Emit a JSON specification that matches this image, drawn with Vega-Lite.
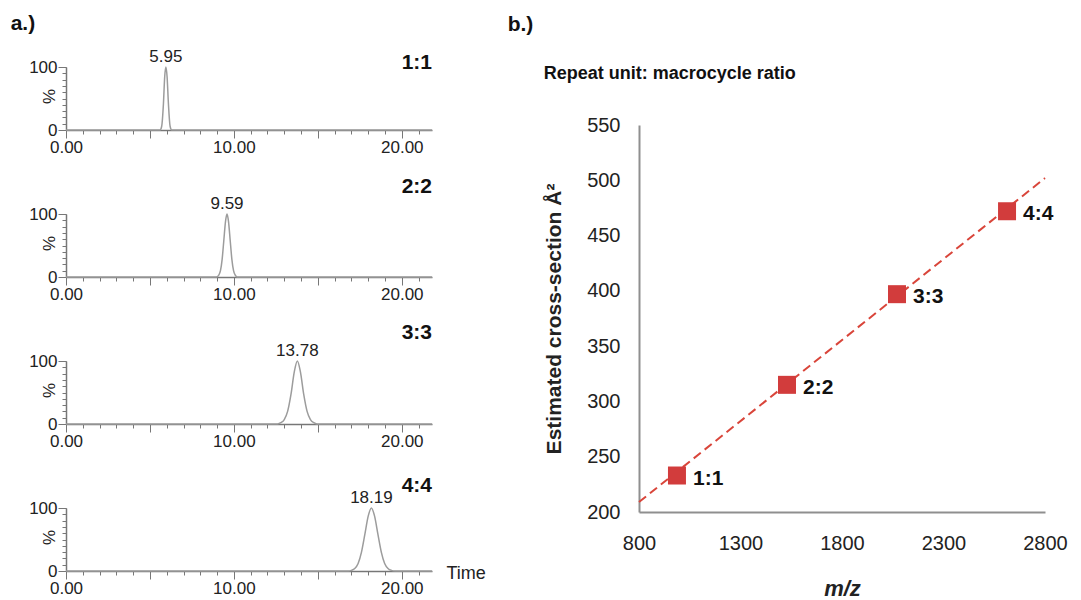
{
  "$schema": "https://vega.github.io/schema/vega-lite/v6.json",
  "background": "white",
  "padding": {"left": 10, "top": 13, "right": 0, "bottom": 0},
  "spacing": 21,
  "config": {
    "font": "Liberation Sans",
    "view": {"stroke": null},
    "axis": {"grid": false, "labelColor": "#222", "titleColor": "#222", "labelFlush": false, "labelOverlap": false},
    "title": {"color": "#111"}
  },
  "hconcat": [
    {
      "title": {"text": "a.)", "anchor": "start", "frame": "bounds", "fontSize": 21, "fontWeight": "bold", "offset": 14, "dx": -18},
      "spacing": 84,
      "bounds": "flush",
      "vconcat": [
        {
          "width": 366, "height": 63,
          "resolve": {"axis": {"x": "independent", "y": "independent"}},
          "layer": [
            {
              "data": {"values": [{"t":0,"p":0},{"t":5.6,"p":0},{"t":5.7,"p":6},{"t":5.8,"p":40},{"t":5.88,"p":85},{"t":5.95,"p":100},{"t":6.02,"p":85},{"t":6.1,"p":42},{"t":6.2,"p":6},{"t":6.3,"p":0},{"t":21.8,"p":0}]},
              "mark": {"type": "line", "color": "#9c9c9c", "strokeWidth": 1.5, "interpolate": "monotone"},
              "encoding": {
                "x": {"field": "t", "type": "quantitative", "scale": {"domain": [0, 21.8], "nice": false, "zero": false},
                  "axis": {"orient": "bottom", "values": [0,1,2,3,4,5,6,7,8,9,10,11,12,13,14,15,16,17,18,19,20,21], "tickSize": 4, "labels": false, "domain": true, "domainColor": "#777", "domainWidth": 1.5, "tickColor": "#777", "title": null}},
                "y": {"field": "p", "type": "quantitative", "scale": {"domain": [0, 100], "nice": false},
                  "axis": {"orient": "left", "values": [0,10,20,30,40,50,60,70,80,90,100], "tickSize": 4, "labels": false, "domain": true, "domainColor": "#777", "domainWidth": 1.5, "tickColor": "#777", "title": null}}
              }
            },
            {
              "data": {"values": [{"t": 5.95, "p": 100, "label": "5.95"}]},
              "mark": {"type": "text", "baseline": "bottom", "dy": -1, "fontSize": 17, "color": "#222"},
              "encoding": {
                "x": {"field": "t", "type": "quantitative",
                  "axis": {"orient": "bottom", "values": [0,5,10,15,20], "tickSize": 8, "domain": false, "tickColor": "#777", "labelExpr": "datum.value % 10 == 0 ? format(datum.value, '.2f') : ''", "labelFontSize": 17, "labelPadding": 1, "title": null}},
                "y": {"field": "p", "type": "quantitative",
                  "axis": {"orient": "left", "values": [0, 100], "tickSize": 8, "domain": false, "tickColor": "#777", "labelFontSize": 17, "labelPadding": 1, "title": "%", "titleFontSize": 17, "titleFontWeight": "normal", "titleX": -17, "titleY": 29, "titleBaseline": "middle", "titleAlign": "center"}},
                "text": {"field": "label"}
              }
            },
            {
              "data": {"values": [{"label": "1:1"}]},
              "mark": {"type": "text", "align": "right", "baseline": "middle", "fontSize": 21, "fontWeight": "bold", "color": "#111"},
              "encoding": {
                "x": {"datum": 21.8, "type": "quantitative", "axis": null},
                "y": {"datum": 106, "type": "quantitative", "axis": null},
                "text": {"field": "label"}
              }
            }
          ]
        },
        {
          "width": 366, "height": 63,
          "resolve": {"axis": {"x": "independent", "y": "independent"}},
          "layer": [
            {
              "data": {"values": [{"t":0,"p":0},{"t":8.95,"p":0},{"t":9.1,"p":3},{"t":9.2,"p":10},{"t":9.3,"p":28},{"t":9.4,"p":58},{"t":9.5,"p":88},{"t":9.59,"p":100},{"t":9.68,"p":88},{"t":9.78,"p":58},{"t":9.88,"p":28},{"t":9.98,"p":10},{"t":10.08,"p":3},{"t":10.2,"p":0},{"t":21.8,"p":0}]},
              "mark": {"type": "line", "color": "#9c9c9c", "strokeWidth": 1.5, "interpolate": "monotone"},
              "encoding": {
                "x": {"field": "t", "type": "quantitative", "scale": {"domain": [0, 21.8], "nice": false, "zero": false},
                  "axis": {"orient": "bottom", "values": [0,1,2,3,4,5,6,7,8,9,10,11,12,13,14,15,16,17,18,19,20,21], "tickSize": 4, "labels": false, "domain": true, "domainColor": "#777", "domainWidth": 1.5, "tickColor": "#777", "title": null}},
                "y": {"field": "p", "type": "quantitative", "scale": {"domain": [0, 100], "nice": false},
                  "axis": {"orient": "left", "values": [0,10,20,30,40,50,60,70,80,90,100], "tickSize": 4, "labels": false, "domain": true, "domainColor": "#777", "domainWidth": 1.5, "tickColor": "#777", "title": null}}
              }
            },
            {
              "data": {"values": [{"t": 9.59, "p": 100, "label": "9.59"}]},
              "mark": {"type": "text", "baseline": "bottom", "dy": -1, "fontSize": 17, "color": "#222"},
              "encoding": {
                "x": {"field": "t", "type": "quantitative",
                  "axis": {"orient": "bottom", "values": [0,5,10,15,20], "tickSize": 8, "domain": false, "tickColor": "#777", "labelExpr": "datum.value % 10 == 0 ? format(datum.value, '.2f') : ''", "labelFontSize": 17, "labelPadding": 1, "title": null}},
                "y": {"field": "p", "type": "quantitative",
                  "axis": {"orient": "left", "values": [0, 100], "tickSize": 8, "domain": false, "tickColor": "#777", "labelFontSize": 17, "labelPadding": 1, "title": "%", "titleFontSize": 17, "titleFontWeight": "normal", "titleX": -17, "titleY": 29, "titleBaseline": "middle", "titleAlign": "center"}},
                "text": {"field": "label"}
              }
            },
            {
              "data": {"values": [{"label": "2:2"}]},
              "mark": {"type": "text", "align": "right", "baseline": "middle", "fontSize": 21, "fontWeight": "bold", "color": "#111"},
              "encoding": {
                "x": {"datum": 21.8, "type": "quantitative", "axis": null},
                "y": {"datum": 143, "type": "quantitative", "axis": null},
                "text": {"field": "label"}
              }
            }
          ]
        },
        {
          "width": 366, "height": 63,
          "resolve": {"axis": {"x": "independent", "y": "independent"}},
          "layer": [
            {
              "data": {"values": [{"t":0,"p":0},{"t":12.6,"p":0},{"t":12.8,"p":2},{"t":13.0,"p":7},{"t":13.2,"p":20},{"t":13.4,"p":47},{"t":13.6,"p":83},{"t":13.78,"p":100},{"t":13.96,"p":83},{"t":14.16,"p":47},{"t":14.36,"p":20},{"t":14.56,"p":7},{"t":14.76,"p":2},{"t":14.95,"p":0},{"t":21.8,"p":0}]},
              "mark": {"type": "line", "color": "#9c9c9c", "strokeWidth": 1.5, "interpolate": "monotone"},
              "encoding": {
                "x": {"field": "t", "type": "quantitative", "scale": {"domain": [0, 21.8], "nice": false, "zero": false},
                  "axis": {"orient": "bottom", "values": [0,1,2,3,4,5,6,7,8,9,10,11,12,13,14,15,16,17,18,19,20,21], "tickSize": 4, "labels": false, "domain": true, "domainColor": "#777", "domainWidth": 1.5, "tickColor": "#777", "title": null}},
                "y": {"field": "p", "type": "quantitative", "scale": {"domain": [0, 100], "nice": false},
                  "axis": {"orient": "left", "values": [0,10,20,30,40,50,60,70,80,90,100], "tickSize": 4, "labels": false, "domain": true, "domainColor": "#777", "domainWidth": 1.5, "tickColor": "#777", "title": null}}
              }
            },
            {
              "data": {"values": [{"t": 13.78, "p": 100, "label": "13.78"}]},
              "mark": {"type": "text", "baseline": "bottom", "dy": -1, "fontSize": 17, "color": "#222"},
              "encoding": {
                "x": {"field": "t", "type": "quantitative",
                  "axis": {"orient": "bottom", "values": [0,5,10,15,20], "tickSize": 8, "domain": false, "tickColor": "#777", "labelExpr": "datum.value % 10 == 0 ? format(datum.value, '.2f') : ''", "labelFontSize": 17, "labelPadding": 1, "title": null}},
                "y": {"field": "p", "type": "quantitative",
                  "axis": {"orient": "left", "values": [0, 100], "tickSize": 8, "domain": false, "tickColor": "#777", "labelFontSize": 17, "labelPadding": 1, "title": "%", "titleFontSize": 17, "titleFontWeight": "normal", "titleX": -17, "titleY": 29, "titleBaseline": "middle", "titleAlign": "center"}},
                "text": {"field": "label"}
              }
            },
            {
              "data": {"values": [{"label": "3:3"}]},
              "mark": {"type": "text", "align": "right", "baseline": "middle", "fontSize": 21, "fontWeight": "bold", "color": "#111"},
              "encoding": {
                "x": {"datum": 21.8, "type": "quantitative", "axis": null},
                "y": {"datum": 144, "type": "quantitative", "axis": null},
                "text": {"field": "label"}
              }
            }
          ]
        },
        {
          "width": 366, "height": 63,
          "resolve": {"axis": {"x": "independent", "y": "independent"}},
          "layer": [
            {
              "data": {"values": [{"t":0,"p":0},{"t":16.8,"p":0},{"t":17.0,"p":1},{"t":17.2,"p":4},{"t":17.4,"p":12},{"t":17.6,"p":30},{"t":17.8,"p":58},{"t":18.0,"p":87},{"t":18.19,"p":100},{"t":18.38,"p":87},{"t":18.58,"p":58},{"t":18.78,"p":30},{"t":18.98,"p":12},{"t":19.18,"p":4},{"t":19.38,"p":1},{"t":19.6,"p":0},{"t":21.8,"p":0}]},
              "mark": {"type": "line", "color": "#9c9c9c", "strokeWidth": 1.5, "interpolate": "monotone"},
              "encoding": {
                "x": {"field": "t", "type": "quantitative", "scale": {"domain": [0, 21.8], "nice": false, "zero": false},
                  "axis": {"orient": "bottom", "values": [0,1,2,3,4,5,6,7,8,9,10,11,12,13,14,15,16,17,18,19,20,21], "tickSize": 4, "labels": false, "domain": true, "domainColor": "#777", "domainWidth": 1.5, "tickColor": "#777", "title": "Time", "titleFontSize": 18, "titleFontWeight": "normal", "titleX": 380, "titleY": 2, "titleAlign": "left", "titleBaseline": "middle"}},
                "y": {"field": "p", "type": "quantitative", "scale": {"domain": [0, 100], "nice": false},
                  "axis": {"orient": "left", "values": [0,10,20,30,40,50,60,70,80,90,100], "tickSize": 4, "labels": false, "domain": true, "domainColor": "#777", "domainWidth": 1.5, "tickColor": "#777", "title": null}}
              }
            },
            {
              "data": {"values": [{"t": 18.19, "p": 100, "label": "18.19"}]},
              "mark": {"type": "text", "baseline": "bottom", "dy": -1, "fontSize": 17, "color": "#222"},
              "encoding": {
                "x": {"field": "t", "type": "quantitative",
                  "axis": {"orient": "bottom", "values": [0,5,10,15,20], "tickSize": 8, "domain": false, "tickColor": "#777", "labelExpr": "datum.value % 10 == 0 ? format(datum.value, '.2f') : ''", "labelFontSize": 17, "labelPadding": 1, "title": null}},
                "y": {"field": "p", "type": "quantitative",
                  "axis": {"orient": "left", "values": [0, 100], "tickSize": 8, "domain": false, "tickColor": "#777", "labelFontSize": 17, "labelPadding": 1, "title": "%", "titleFontSize": 17, "titleFontWeight": "normal", "titleX": -17, "titleY": 29, "titleBaseline": "middle", "titleAlign": "center"}},
                "text": {"field": "label"}
              }
            },
            {
              "data": {"values": [{"label": "4:4"}]},
              "mark": {"type": "text", "align": "right", "baseline": "middle", "fontSize": 21, "fontWeight": "bold", "color": "#111"},
              "encoding": {
                "x": {"datum": 21.8, "type": "quantitative", "axis": null},
                "y": {"datum": 135, "type": "quantitative", "axis": null},
                "text": {"field": "label"}
              }
            }
          ]
        }
      ]
    },
    {
      "title": {"text": "b.)", "anchor": "start", "frame": "bounds", "fontSize": 21, "fontWeight": "bold", "offset": 30, "dx": -36},
      "bounds": "flush",
      "spacing": 57,
      "vconcat": [
        {
          "width": 406, "height": 1,
          "data": {"values": []},
          "mark": "point"
        },
        {
          "title": {"text": "Repeat unit: macrocycle ratio", "anchor": "start", "frame": "bounds", "fontSize": 18, "fontWeight": "bold", "offset": 32},
          "width": 406, "height": 387,
          "layer": [
            {
              "data": {"values": [{"mz": 800, "ccs": 209}, {"mz": 2800, "ccs": 502}]},
              "mark": {"type": "line", "color": "#d9453a", "strokeWidth": 2, "strokeDash": [9, 5]},
              "encoding": {
                "x": {"field": "mz", "type": "quantitative", "scale": {"domain": [800, 2800], "nice": false, "zero": false},
                  "axis": {"values": [800, 1300, 1800, 2300, 2800], "format": "d", "ticks": false, "tickSize": 0, "labelFontSize": 20, "labelPadding": 21, "domainColor": "#8f8f8f", "domainWidth": 2, "title": "m/z", "titleFontSize": 22, "titleFontStyle": "italic", "titleFontWeight": "bold", "titlePadding": 25}},
                "y": {"field": "ccs", "type": "quantitative", "scale": {"domain": [200, 550], "nice": false, "zero": false},
                  "axis": {"values": [200, 250, 300, 350, 400, 450, 500, 550], "ticks": false, "tickSize": 0, "labelFontSize": 20, "labelPadding": 19, "domainColor": "#8f8f8f", "domainWidth": 2, "title": "Estimated cross-section Å²", "titleFontSize": 21, "titleFontWeight": "bold", "titlePadding": 22}}
              }
            },
            {
              "data": {"values": [
                {"mz": 987, "ccs": 233, "label": "1:1"},
                {"mz": 1529, "ccs": 315, "label": "2:2"},
                {"mz": 2071, "ccs": 397, "label": "3:3"},
                {"mz": 2613, "ccs": 472, "label": "4:4"}
              ]},
              "encoding": {
                "x": {"field": "mz", "type": "quantitative"},
                "y": {"field": "ccs", "type": "quantitative"}
              },
              "layer": [
                {"mark": {"type": "point", "shape": "square", "filled": true, "size": 324, "color": "#d23c3c", "opacity": 1}},
                {"mark": {"type": "text", "align": "left", "baseline": "middle", "dx": 16, "dy": 3, "fontSize": 21, "fontWeight": "bold", "color": "#111"},
                 "encoding": {"text": {"field": "label"}}}
              ]
            }
          ]
        }
      ]
    }
  ]
}
